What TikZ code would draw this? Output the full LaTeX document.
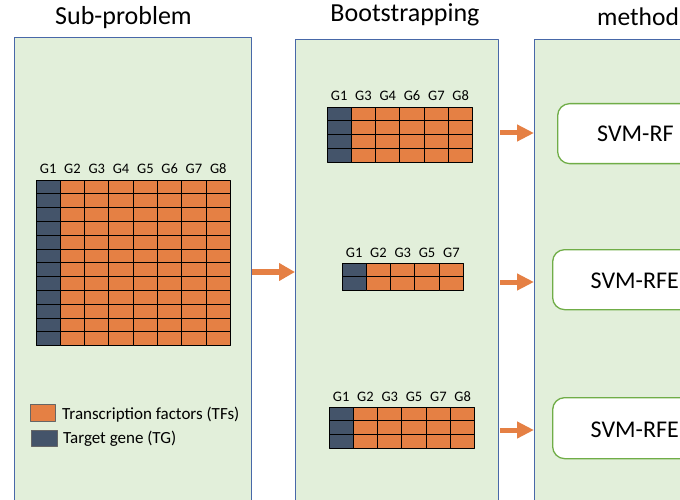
\documentclass[tikz,border=0pt]{standalone}
\usepackage{fontspec}
\setmainfont{Carlito}
\usetikzlibrary{arrows.meta, positioning}

\definecolor{panelfill}{HTML}{E2EFDA}
\definecolor{paneldraw}{RGB}{72,104,168}
\definecolor{tfcol}{RGB}{229,128,68}
\definecolor{tgcol}{HTML}{44546A}
\definecolor{boxdraw}{HTML}{70AD47}

\begin{document}
\begin{tikzpicture}[x=1pt, y=-1pt, >=Stealth, line join=round]
		
		%======================
		% PARAMETERS (edit here)
		%======================
		\def\cellw{24.3}     % width of one gene column
		\def\cellh{13.8}     % height of one sample row
		
		%======================
		% STYLES
		%======================
		\tikzset{
			panel/.style={draw=paneldraw, line width=1.2pt, fill=panelfill, anchor=north west, inner sep=0pt},
			title/.style={font=\fontsize{26}{30}\selectfont, anchor=base, inner sep=0pt},
			glabel/.style={font=\fontsize{14.5}{17}\selectfont, anchor=base, inner sep=0pt},
			cell/.style={draw=black, line width=0.9pt},
			legsq/.style={draw=black!60, line width=0.6pt, inner sep=0pt},
			legtxt/.style={font=\fontsize{17}{20}\selectfont, anchor=base west, inner sep=0pt},
			methodbox/.style={draw=boxdraw, line width=1.3pt, fill=white, rounded corners=12pt,
				anchor=north west, minimum width=200pt, inner sep=0pt},
			methodtxt/.style={font=\fontsize{24}{28}\selectfont, anchor=base west, inner sep=0pt},
			flow/.style={tfcol, line width=5.5pt, line cap=butt, -{Triangle[length=16pt, width=17pt]}}
		}
		
		% Utility: gene expression grid, #1=name, (#2,#3)=top left, #4=rows, #5=gene labels
		\newcommand{\genegrid}[5]{
			\foreach \g [count=\i] in {#5} {
				\pgfmathsetmacro{\xl}{#2+(\i-1)*\cellw}
				\pgfmathsetmacro{\xr}{#2+\i*\cellw}
				\node[glabel] (#1-\g) at ({(\xl+\xr)/2},{#3-6}) {\g};
				\ifnum\i=1 \def\cellfill{tgcol}\else\def\cellfill{tfcol}\fi
				\foreach \r in {1,...,#4} {
					\draw[cell, fill=\cellfill] (\xl,{#3+(\r-1)*\cellh}) rectangle (\xr,{#3+\r*\cellh});
				}
			}
		}
		
		\useasboundingbox (0,0) rectangle (680,500);
		\clip (0,0) rectangle (680,500);
		
		%----------------------
		% Panel 1: Sub-problem
		%----------------------
		\node[title] (t1) at (123.5,25) {Sub-problem};
		\node[panel, minimum width=237pt, minimum height=490pt] (p1) at (14,37) {};
		
		\genegrid{full}{36}{180}{12}{G1,G2,G3,G4,G5,G6,G7,G8}
		
		% legend
		\node[legsq, fill=tfcol, minimum width=25pt, minimum height=17pt] (legtf) at (42.5,412.5) {};
		\node[legsq, fill=tgcol, minimum width=26pt, minimum height=16pt] (legtg) at (44,438) {};
		\node[legtxt] (legtftxt) at (62,419) {Transcription factors (TFs)};
		\node[legtxt] (legtgtxt) at (63,443) {Target gene (TG)};
		
		%----------------------
		% Panel 2: Bootstrapping
		%----------------------
		\node[title] (t2) at (405,22) {Bootstrapping};
		\node[panel, minimum width=203pt, minimum height=490pt] (p2) at (295,39) {};
		
		\genegrid{bsa}{327}{107}{4}{G1,G3,G4,G6,G7,G8}
		\genegrid{bsb}{342}{263}{2}{G1,G2,G3,G5,G7}
		\genegrid{bsc}{329}{407}{3}{G1,G2,G3,G5,G7,G8}
		
		%----------------------
		% Panel 3: method
		%----------------------
		\node[title, anchor=base west, font=\fontsize{25.5}{30}\selectfont] (t3) at (597,26) {method};
		\node[panel, minimum width=200pt, minimum height=490pt] (p3) at (534,39) {};
		
		\node[methodbox, minimum height=60pt] (b1) at (557,103) {};
		\node[methodbox, minimum height=60pt] (b2) at (552,249) {};
		\node[methodbox, minimum height=61pt] (b3) at (552,397) {};
		\node[methodtxt] (m1) at (597,141.5) {SVM-RF};
		\node[methodtxt] (m2) at (590.5,288) {SVM-RFE};
		\node[methodtxt] (m3) at (590.5,437) {SVM-RFE};
		
		%----------------------
		% arrows between panels
		%----------------------
		\draw[flow] (p1.east |- 0,272) -- (p2.west |- 0,272);
		\draw[flow, line width=5pt, -{Triangle[length=17pt, width=16pt]}] ([xshift=1pt]p2.east |- 0,133) -- (p3.west |- 0,133);
		\draw[flow, line width=5pt, -{Triangle[length=17pt, width=16pt]}] ([xshift=1pt]p2.east |- 0,282) -- (p3.west |- 0,282);
		\draw[flow, line width=5pt, -{Triangle[length=17pt, width=16pt]}] ([xshift=1pt]p2.east |- 0,430) -- (p3.west |- 0,430);
		
	\end{tikzpicture}
\end{document}
